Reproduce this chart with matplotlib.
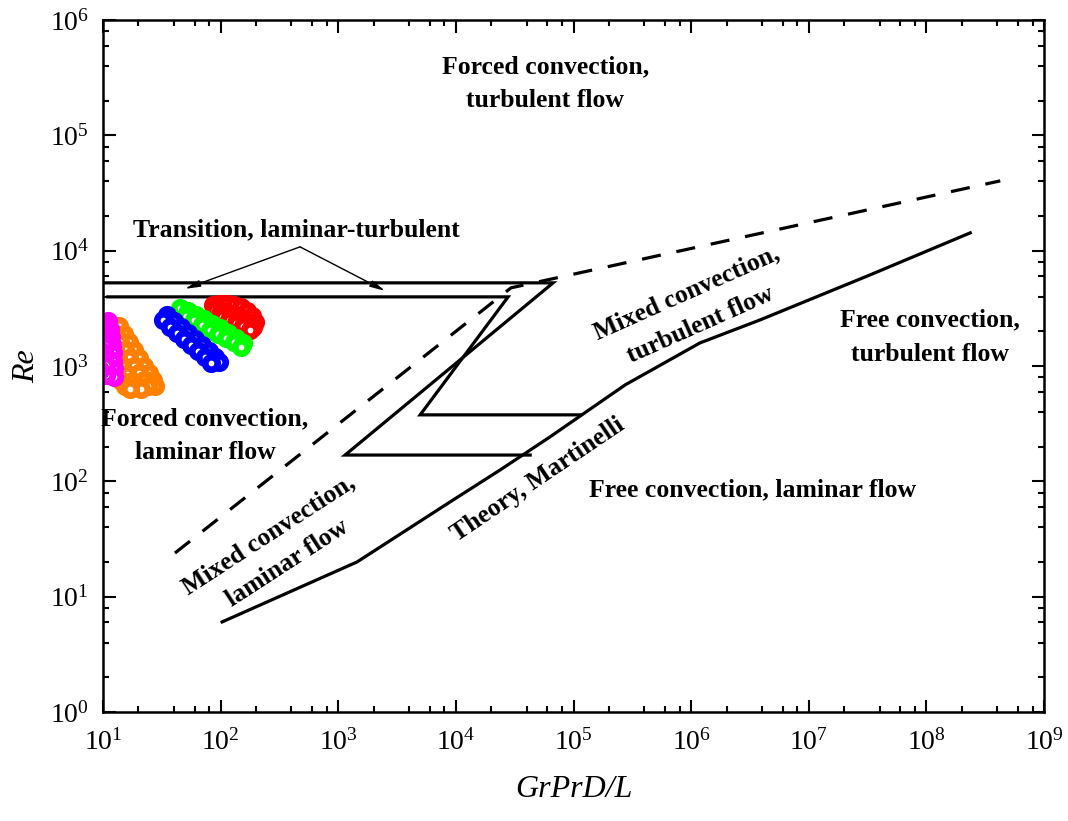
import numpy as np
import matplotlib
matplotlib.use("Agg")
import matplotlib.pyplot as plt
from matplotlib.ticker import FixedLocator, NullFormatter

# ----
# Data
# ----
# Theory, Martinelli (lower solid boundary)
mart_x = [103, 1445, 8930, 23800, 63200, 2.75e5, 1.19e6, 3.86e6, 3.33e7, 2.36e8]
mart_y = [6.04, 20.0, 66.3, 125.6, 243, 686, 1586, 2510, 6170, 14270]

# dashed boundary
dash_x = [40.9, 29400, 4.25e8]
dash_y = [23.9, 4760, 40300]

# outer Z-shaped transition boundary
outer_x = [10, 67100, 1143, 42800]
outer_y = [5260, 5260, 169, 169]

# inner Z-shaped transition boundary
inner_x = [11, 27800, 4970, 1.14e5]
inner_y = [3975, 3975, 377, 377]

# experimental points
red_x = [86.1, 98.8, 113.3, 130.0, 149.0, 167.5, 184.9, 196.1,
         87.9, 100.7, 115.6, 132.5, 152.0, 170.9, 188.7,
         102.8, 117.8, 135.1, 155.0, 177.8]
red_y = [3388, 3459, 3459, 3388, 3258, 3006, 2721, 2415,
         3067, 3006, 2890, 2773, 2613, 2415, 2183,
         2667, 2512, 2365, 2228, 2056]

green_x = [45.2, 52.8, 61.8, 72.3, 84.5, 98.8, 115.6, 135.1, 155.0,
           50.8, 59.4, 69.5, 81.3, 95.1, 111.2, 130.0, 149.0]
green_y = [3190, 3006, 2773, 2563, 2318, 2140, 1936, 1743, 1577,
           2721, 2512, 2270, 2056, 1897, 1743, 1607, 1459]

blue_x = [35.0, 40.2, 46.1, 52.8, 60.6, 69.5, 79.6, 89.6, 96.8,
          32.4, 37.1, 42.6, 48.8, 56.0, 64.3, 73.6, 82.8]
blue_y = [2773, 2461, 2183, 1936, 1718, 1524, 1352, 1199, 1086,
          2512, 2183, 1936, 1718, 1524, 1352, 1199, 1064]

orange_x = [13.7, 15.1, 16.6, 18.4, 20.2, 22.3, 24.6, 26.6, 27.7,
            12.9, 14.0, 15.4, 16.6, 18.4, 20.2, 22.3, 24.2,
            12.6, 13.4, 14.5, 16.0, 17.7, 19.5, 21.0,
            12.4, 12.9, 14.0, 15.4, 17.0]
orange_y = [2228, 1897, 1607, 1380, 1175, 1002, 871, 757, 672,
            1897, 1607, 1380, 1175, 1002, 871, 757, 672,
            1436, 1175, 1002, 854, 742, 672, 633,
            1086, 889, 757, 672, 633]

magenta_x = [11.0, 11.5, 11.7, 11.9, 12.2, 12.2, 12.4, 12.4,
             10.2, 10.2, 10.4, 10.4, 10.6, 10.6, 9.4, 9.4, 9.4]
magenta_y = [2461, 2098, 1788, 1524, 1300, 1107, 944, 804,
             2270, 1862, 1524, 1248, 1023, 837, 2056, 1380, 925]

# axis ticks
x_major = [1e1, 1e2, 1e3, 1e4, 1e5, 1e6, 1e7, 1e8, 1e9]
y_major = [1e0, 1e1, 1e2, 1e3, 1e4, 1e5, 1e6]

# ----
# Style
# ----
plt.rcParams['font.family'] = ['Liberation Serif', 'DejaVu Serif']
plt.rcParams['mathtext.fontset'] = 'custom'
plt.rcParams['mathtext.rm'] = 'Liberation Serif'
plt.rcParams['mathtext.it'] = 'Liberation Serif:italic'
plt.rcParams['mathtext.bf'] = 'Liberation Serif:bold'

fig = plt.figure(figsize=(10.68, 8.21), dpi=100)
ax = fig.add_axes([103 / 1068, 1 - 712 / 821, (1044 - 103) / 1068, (712 - 20) / 821])

# ----
# Boundary lines
# ----
lw = 2.3
ax.plot(mart_x, mart_y, color='black', lw=lw, solid_joinstyle='miter')
ax.plot(dash_x, dash_y, color='black', lw=lw, dashes=(6, 5))
ax.plot(outer_x, outer_y, color='black', lw=lw, solid_joinstyle='miter')
ax.plot(inner_x, inner_y, color='black', lw=lw, solid_joinstyle='miter')

# ----
# Experimental points (open circles with thick edges)
# ----
for xs, ys, c in [(red_x, red_y, '#ff0000'),
                  (green_x, green_y, '#00ff00'),
                  (blue_x, blue_y, '#0000ff'),
                  (orange_x, orange_y, '#ff8000'),
                  (magenta_x, magenta_y, '#ff00ff')]:
    ax.plot(xs, ys, 'o', ls='none', ms=9.0, mew=4.8,
            mfc='white', mec=c)

# ----
# Arrows for transition label
# ----
for tip in [(49.8, 4667), (2500, 4480)]:
    ax.annotate('', xy=tip, xytext=(473, 10790),
                arrowprops=dict(arrowstyle='-|>,head_length=0.9,head_width=0.2',
                                color='black', lw=1, shrinkA=0, shrinkB=0))

# ----
# Region labels
# ----
tkw = dict(fontsize=18.5, fontweight='bold', ha='center', va='center',
           linespacing=1.62)
ax.text(57400, 2.8e5, 'Forced convection,\nturbulent flow', **tkw)
ax.text(437, 15150, 'Transition, laminar-turbulent', **tkw)
ax.text(73.6, 248, 'Forced convection,\nlaminar flow', **tkw)
ax.text(1.04e6, 3127, 'Mixed convection,\nturbulent flow', rotation=24,
        rotation_mode='anchor', **tkw)
ax.text(1.08e8, 1787, 'Free convection,\nturbulent flow', **tkw)
ax.text(3.3e6, 84.2, 'Free convection, laminar flow', **tkw)
ax.text(50000, 102.8, 'Theory, Martinelli', rotation=34,
        rotation_mode='anchor', **tkw)
ax.text(307, 25.9, 'Mixed convection,\nlaminar flow', rotation=33,
        rotation_mode='anchor', **tkw)

# ----
# Axes
# ----
ax.set_xscale('log')
ax.set_yscale('log')
ax.set_xlim(10, 1e9)
ax.set_ylim(1, 1e6)
ax.xaxis.set_major_locator(FixedLocator(x_major))
ax.yaxis.set_major_locator(FixedLocator(y_major))
x_minor = [m * d for d in x_major[:-1] for m in (2, 4, 6, 8)]
y_minor = [m * d for d in y_major[:-1] for m in (2, 4, 6, 8)]
ax.xaxis.set_minor_locator(FixedLocator(x_minor))
ax.yaxis.set_minor_locator(FixedLocator(y_minor))
ax.xaxis.set_minor_formatter(NullFormatter())
ax.yaxis.set_minor_formatter(NullFormatter())

ax.tick_params(which='both', direction='in', top=True, right=True, width=1.5)
ax.tick_params(which='major', length=9, labelsize=20)
ax.tick_params(axis='x', which='major', pad=12)
ax.tick_params(axis='y', which='major', pad=10)
ax.tick_params(which='minor', length=4.5)
for s in ax.spines.values():
    s.set_linewidth(1.8)

ax.set_xlabel('GrPrD/L', fontsize=23, fontstyle='italic', labelpad=14)
ax.set_ylabel('Re', fontsize=23, fontstyle='italic', labelpad=6)

fig.savefig('out.png', dpi=100)
plt.close(fig)
